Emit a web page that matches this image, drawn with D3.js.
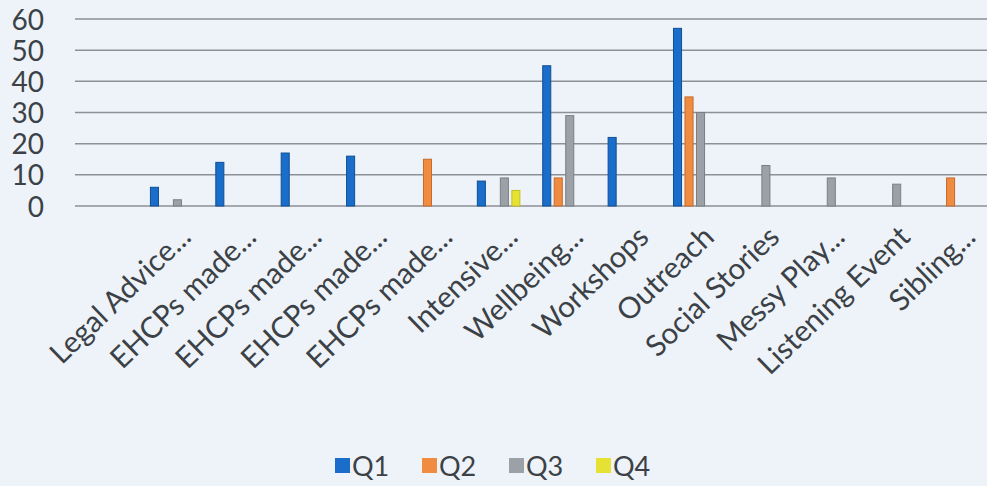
<!DOCTYPE html>
<html><head><meta charset="utf-8">
<script src="https://cdn.jsdelivr.net/npm/d3@7"></script>
<style>
html,body{margin:0;padding:0;background:#edf3f8;}
svg{display:block;}
</style></head>
<body>
<svg id="c" width="987" height="486"></svg>
<script>
const categories = ["Legal Advice...", "EHCPs made...", "EHCPs made...", "EHCPs made...", "EHCPs made...", "Intensive...", "Wellbeing...", "Workshops", "Outreach", "Social Stories", "Messy Play...", "Listening Event", "Sibling..."];
const series = ["Q1", "Q2", "Q3", "Q4"];
const q1 = [6, 14, 17, 16, 0, 8, 45, 22, 57, 0, 0, 0, 0];
const q2 = [0, 0, 0, 0, 15, 0, 9, 0, 35, 0, 0, 0, 9];
const q3 = [2, 0, 0, 0, 0, 9, 29, 0, 30, 13, 9, 7, 0];
const q4 = [0, 0, 0, 0, 0, 5, 0, 0, 0, 0, 0, 0, 0];
const yTicks = [0, 10, 20, 30, 40, 50, 60];
const colors = {Q1: "#1a6dc9", Q2: "#f08b42", Q3: "#9ca1a7", Q4: "#e6e234"};
const strokes = {Q1: "#0f4f96", Q2: "#c96a2a", Q3: "#7a7f85", Q4: "#c4bf20"};

const values = {Q1: q1, Q2: q2, Q3: q3, Q4: q4};
const svg = d3.select("#c");
const font = "Lato, 'Open Sans', sans-serif";
const textCol = "#3b4146";

const y = d3.scaleLinear().domain([0, 60]).range([206, 19]);
const idx = categories.map((c, i) => i);
const x0 = d3.scaleBand().domain(idx).range([139, 989]).padding(0);
const step = x0.bandwidth();
const x1 = d3.scaleBand().domain(series)
  .range([step / 2 - 23, step / 2 + 23]).paddingInner(0.3).paddingOuter(0.15);

// gridlines
svg.append("g").selectAll("line").data(yTicks).join("line")
  .attr("x1", 75).attr("x2", 987)
  .attr("y1", d => y(d)).attr("y2", d => y(d))
  .attr("stroke", "#8c9197").attr("stroke-width", 1.5);

// y axis labels
const yAxis = d3.axisLeft(y).tickValues(yTicks).tickSize(0).tickPadding(0);
const ya = svg.append("g").attr("transform", "translate(44,0)").call(yAxis);
ya.select(".domain").remove();
ya.selectAll("text").attr("font-family", font).attr("font-size", 28)
  .attr("fill", textCol).attr("dy", "0.36em");

// bars
const g = svg.append("g");
series.forEach(s => {
  g.append("g").selectAll("rect")
    .data(values[s].map((v, i) => ({i, v})).filter(d => d.v > 0))
    .join("rect")
    .attr("x", d => x0(d.i) + x1(s))
    .attr("y", d => y(d.v))
    .attr("width", x1.bandwidth())
    .attr("height", d => y(0) - y(d.v))
    .attr("fill", colors[s])
    .attr("stroke", strokes[s]).attr("stroke-width", 1);
});

// x labels
svg.append("g").selectAll("text").data(idx).join("text")
  .attr("transform", d => `translate(${x0(d) + step / 2 + 21},${239}) rotate(-44)`)
  .attr("text-anchor", "end")
  .attr("font-family", font).attr("font-size", 29.5).attr("fill", textCol)
  .text(d => categories[d]);

// legend
const legend = svg.append("g");
const lx = d3.scaleBand().domain(series).range([335, 683]);
series.forEach(s => {
  const gg = legend.append("g").attr("transform", `translate(${lx(s)},466)`);
  gg.append("rect").attr("x", 0).attr("y", -8).attr("width", 15).attr("height", 15)
    .attr("fill", colors[s]);
  gg.append("text").attr("x", 17).attr("y", 0).attr("dy", "0.36em")
    .attr("font-family", font).attr("font-size", 27).attr("fill", textCol).text(s);
});
</script>
</body></html>
